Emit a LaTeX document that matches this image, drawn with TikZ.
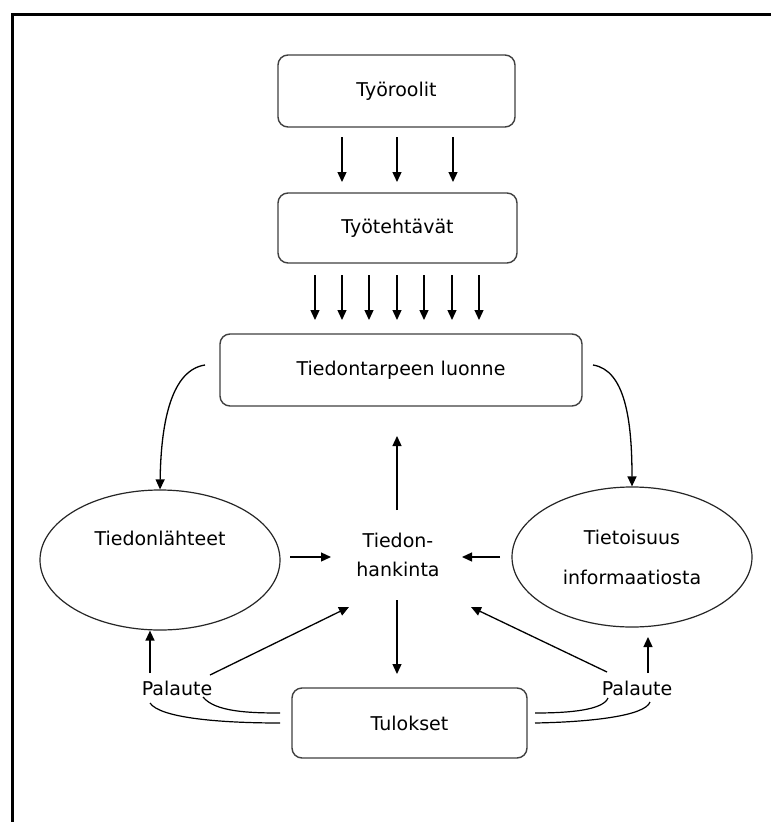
\documentclass[tikz,border=0pt]{standalone}
\usepackage{fontspec}
\setmainfont{DejaVu Sans}
\usetikzlibrary{arrows.meta,shapes.geometric}
\begin{document}
\begin{tikzpicture}[x=1pt,y=-1pt,
  box/.style={draw=black!75,line width=1.4pt,rounded corners=10pt,inner sep=0pt,font=\fontsize{19}{23}\selectfont},
  oval/.style={draw=black!85,ellipse,line width=1.2pt,minimum width=240pt,minimum height=140pt,inner sep=0pt,align=center,font=\fontsize{19}{40}\selectfont},
  lbl/.style={inner sep=0pt,align=center,font=\fontsize{19}{29}\selectfont},
  arr/.style={-{Triangle[length=10pt,width=9pt]},line width=1.3pt},
  ln/.style={line width=1.2pt}]
\useasboundingbox (0,0) rectangle (771,822);
\fill[white] (0,0) rectangle (771,822);
\draw[line width=3pt] (12,822) -- (12,14) -- (771,14);

% boxes
\node[box,minimum width=237pt,minimum height=72pt] (roolit) at (396.5,91) {Työroolit};
\node[box,minimum width=239pt,minimum height=70pt] (tehtavat) at (397.5,228) {Työtehtävät};
\node[box,minimum width=362pt,minimum height=72pt] (tarve) at (401,370) {Tiedontarpeen luonne};
\node[box,minimum width=235pt,minimum height=70pt] (tulokset) at (409.5,723) {Tulokset};

% ellipses
\node[oval,font=\fontsize{19}{34}\selectfont] (lahteet) at (160,560) {Tiedonlähteet\\ \strut};
\node[oval] (tietoisuus) at (632,557) {Tietoisuus\\informaatiosta};

% centre
\node[lbl] (hankinta) at (398,555) {Tiedon-\\hankinta};

% feedback labels
\node[lbl] (palL) at (177,688) {Palaute};
\node[lbl] (palR) at (637,688) {Palaute};

% arrows roolit -> tehtavat
\foreach \x in {342,397,453}
  \draw[arr] (\x,137) -- (\x,182);
% arrows tehtavat -> tarve
\foreach \x in {315,342,369,397,424,452,479}
  \draw[arr] (\x,275) -- (\x,320);

% curved arrows from tarve
\coordinate (cl1) at (205,365);
\coordinate (cr1) at (593,365);
\draw[arr] (cl1) .. controls (172,370) and (161,420) .. (lahteet.north);
\draw[arr] (cr1) .. controls (625,370) and (632,420) .. (tietoisuus.north);

% centre arrows
\coordinate (hu1) at (397,510);
\coordinate (hl1) at (290,557);
\coordinate (hr1) at (500,557);
\coordinate (hd1) at (397,600);
\draw[arr] (hu1) -- (397,436);
\draw[arr] (hl1) -- (331,557);
\draw[arr] (hr1) -- (462,557);
\draw[arr] (hd1) -- (397,674);

% feedback arrows
\draw[arr] (150,673) -- (lahteet.south -| 150,0);
\draw[arr] (648,673) -- (648,637);
\draw[arr] (210,675) -- (349,607);
\draw[arr] (607,672) -- (471,607);

% curves Palaute <-> Tulokset
\draw[ln] (203,697) .. controls (215,712) and (250,713) .. (280,713);
\draw[ln] (150,703) .. controls (160,718) and (220,723) .. (280,723);
\draw[ln] (535,713) .. controls (570,713) and (603,710) .. (608,698);
\draw[ln] (535,723) .. controls (590,722) and (645,716) .. (650,702);
\end{tikzpicture}
\end{document}
